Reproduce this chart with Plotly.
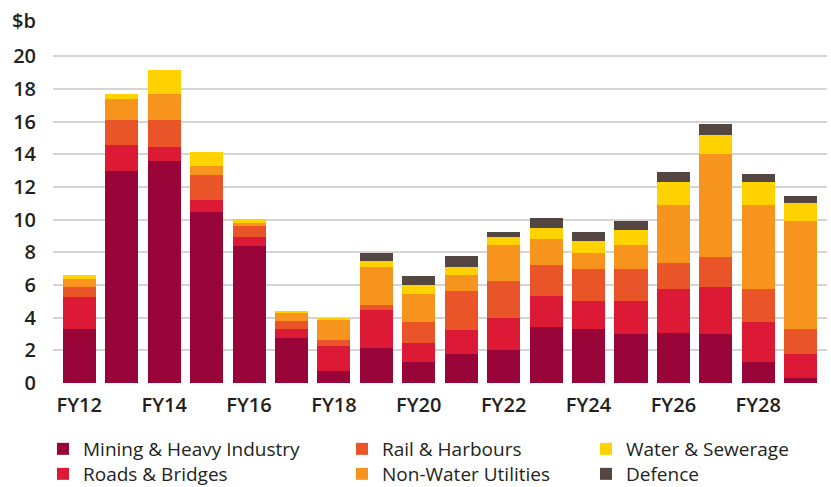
import plotly.graph_objects as go

years = ["FY12", "FY13", "FY14", "FY15", "FY16", "FY17", "FY18", "FY19", "FY20",
         "FY21", "FY22", "FY23", "FY24", "FY25", "FY26", "FY27", "FY28", "FY29"]
tick_labels = ["FY12", "FY14", "FY16", "FY18", "FY20", "FY22", "FY24", "FY26", "FY28"]

mining = [3.31, 12.98, 13.59, 10.47, 8.39, 2.76, 0.73, 2.14, 1.31,
          1.80, 2.04, 3.45, 3.33, 3.02, 3.08, 3.02, 1.31, 0.33]
roads = [1.96, 1.59, 0.86, 0.73, 0.55, 0.55, 1.54, 2.33, 1.16,
         1.47, 1.96, 1.90, 1.71, 2.02, 2.70, 2.88, 2.45, 1.47]
rail = [0.61, 1.53, 1.65, 1.53, 0.67, 0.49, 0.36, 0.31, 1.29,
        2.38, 2.27, 1.89, 1.96, 1.96, 1.59, 1.83, 2.02, 1.53]
non_water = [0.49, 1.29, 1.59, 0.56, 0.19, 0.51, 1.23, 2.32, 1.71,
             0.98, 2.20, 1.60, 0.98, 1.47, 3.55, 6.31, 5.14, 6.61]
water = [0.24, 0.30, 1.47, 0.85, 0.24, 0.06, 0.14, 0.37, 0.55,
         0.49, 0.49, 0.67, 0.73, 0.92, 1.41, 1.16, 1.41, 1.10]
defence = [0, 0, 0, 0, 0, 0, 0, 0.49, 0.55,
           0.68, 0.31, 0.61, 0.56, 0.55, 0.61, 0.62, 0.43, 0.43]

y_ticks = [0, 2, 4, 6, 8, 10, 12, 14, 16, 18, 20]

series = [
    ("Mining & Heavy Industry", mining, "#990538", "legend"),
    ("Roads & Bridges", roads, "#DC1A35", "legend4"),
    ("Rail & Harbours", rail, "#E95429", "legend2"),
    ("Non-Water Utilities", non_water, "#F7941E", "legend5"),
    ("Water & Sewerage", water, "#FFD200", "legend3"),
    ("Defence", defence, "#544741", "legend6"),
]

fig = go.Figure()
for name, vals, color, leg in series:
    fig.add_trace(go.Bar(x=years, y=vals, name=name, marker_color=color,
                         marker_line_width=0, legend=leg, showlegend=True))

FONT = "Open Sans"
W, H = 831, 487
ml, mr, mt, mb = 53, 4, 48, 104
pw = W - ml - mr
ph = H - mt - mb

def px_x(px):
    return (px - ml) / pw

def px_y(py):
    return (H - mb - py) / ph

legend_common = dict(
    orientation="v", traceorder="normal", yanchor="top", xanchor="left",
    font=dict(family=FONT, size=19, color="#231F20"),
    bgcolor="rgba(0,0,0,0)", itemclick=False, itemdoubleclick=False,
    tracegroupgap=0,
)

col_x = [43, 342, 586]
row_top = [430, 455]

fig.update_layout(
    width=W, height=H,
    showlegend=True,
    margin=dict(l=ml, r=mr, t=mt, b=mb, autoexpand=False),
    barmode="stack",
    bargap=0.22,
    plot_bgcolor="white", paper_bgcolor="white",
    font=dict(family=FONT, color="#231F20"),
    xaxis=dict(
        range=[-0.62, 17.62],
        tickmode="array", tickvals=tick_labels, ticktext=tick_labels,
        tickfont=dict(family=FONT, size=20, color="#231F20", weight=600),
        showgrid=False, zeroline=False, showline=False,
        ticks="", ticklabelstandoff=8,
    ),
    yaxis=dict(
        range=[0, 20.5],
        tickmode="array", tickvals=y_ticks,
        tickfont=dict(family=FONT, size=20, color="#231F20", weight=600),
        showgrid=True, gridcolor="#D5D5D5", gridwidth=2,
        zeroline=False, showline=False, ticks="", ticklabelstandoff=16,
    ),
    legend=dict(x=px_x(col_x[0]), y=px_y(row_top[0]), **legend_common),
    legend2=dict(x=px_x(col_x[1]), y=px_y(row_top[0]), **legend_common),
    legend3=dict(x=px_x(col_x[2]), y=px_y(row_top[0]), **legend_common),
    legend4=dict(x=px_x(col_x[0]), y=px_y(row_top[1]), **legend_common),
    legend5=dict(x=px_x(col_x[1]), y=px_y(row_top[1]), **legend_common),
    legend6=dict(x=px_x(col_x[2]), y=px_y(row_top[1]), **legend_common),
    annotations=[
        dict(text="$b", xref="paper", yref="paper", x=px_x(38), y=px_y(21),
             xanchor="right", yanchor="middle", showarrow=False,
             font=dict(family=FONT, size=20, color="#231F20", weight=600)),
    ],
)

fig.write_html(
    "out.html",
    config={"displayModeBar": False},
    post_script="document.documentElement.style.margin='0';"
                "document.body.style.margin='0';document.body.style.padding='0';",
)
